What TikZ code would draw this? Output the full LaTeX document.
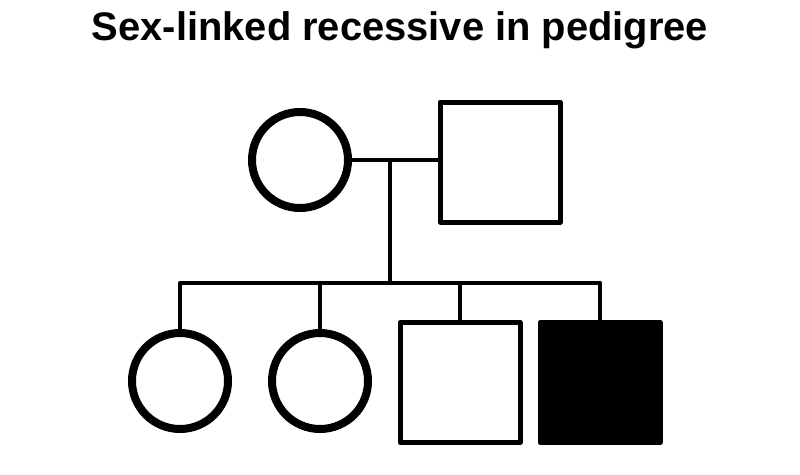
\documentclass[tikz,border=0pt]{standalone}
\usepackage{fontspec}
\setmainfont{Liberation Sans}
\usetikzlibrary{calc}

\begin{document}
\begin{tikzpicture}[x=0.75pt, y=-0.75pt, line join=round]
    % --- Colores ---
    \colorlet{ink}{black}

    % --- Estilos ---
    \tikzset{
        female/.style={circle, draw=ink, line width=6pt, inner sep=0pt, minimum size=72pt},
        male/.style={rectangle, draw=ink, line width=3.75pt, inner sep=0pt, minimum size=90pt},
        affected/.style={fill=ink},
        link/.style={draw=ink, line width=3.4pt}
    }

    % --- Marco ---
    \useasboundingbox (0,0) rectangle (800,475);

    % --- Titulo ---
    \node[anchor=base, font=\fontsize{29.9}{36}\selectfont\bfseries] (title) at (400,40) {Sex-linked recessive in pedigree};

    % --- Padres ---
    \node[female] (mother) at (300,160) {};
    \node[male] (father) at (500,162) {};
    \coordinate (mid) at (390,160);
    \coordinate (sib) at (390,283);

    % --- Hijos ---
    \node[female] (c1) at (180,381) {};
    \node[female] (c2) at (320,381) {};
    \node[male] (c3) at (460,382.5) {};
    \node[male, affected] (c4) at (600,382.5) {};

    % --- Lineas ---
    \draw[link] (mother.east) -- (mother.east -| father.west);
    \draw[link] (mid) -- (sib);
    \draw[link] (c1.north) |- (c4.north |- sib) -- (c4.north);
    \draw[link] (c2.north) -- (c2.north |- sib);
    \draw[link] (c3.north) -- (c3.north |- sib);

\end{tikzpicture}
\end{document}
